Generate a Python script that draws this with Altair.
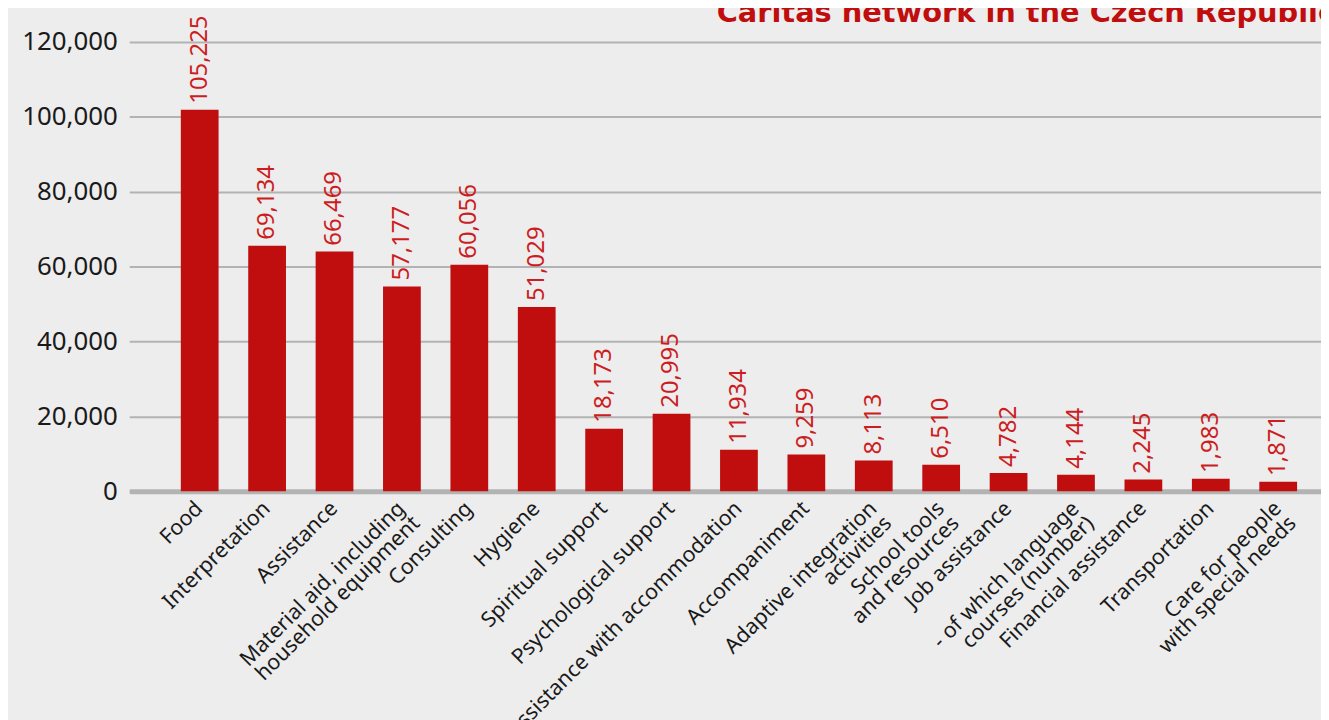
import altair as alt
import pandas as pd

categories = [
    "Food", "Interpretation", "Assistance",
    "Material aid, including\nhousehold equipment", "Consulting", "Hygiene",
    "Spiritual support", "Psychological support", "Assistance with accommodation",
    "Accompaniment", "Adaptive integration\nactivities", "School tools\nand resources",
    "Job assistance", "- of which language\ncourses (number)", "Financial assistance",
    "Transportation", "Care for people\nwith special needs",
]
bar_heights = [101900, 65600, 64000, 54700, 60500, 49200, 16700, 20700, 11100,
               9800, 8200, 7100, 4900, 4400, 3100, 3300, 2500]
label_values = [105225, 69134, 66469, 57177, 60056, 51029, 18173, 20995, 11934,
                9259, 8113, 6510, 4782, 4144, 2245, 1983, 1871]
y_ticks = [0, 20000, 40000, 60000, 80000, 100000, 120000]
title_text = ["Caritas network in the Czech Republic"]

df = pd.DataFrame({"category": categories, "bar": bar_heights, "label": label_values})
tdf = pd.DataFrame({"t": title_text})

BAR = "#c00d0d"
LABEL = "#cc1d22"
FONT = "Noto Sans"

x = alt.X(
    "category:N", sort=None, title=None,
    scale=alt.Scale(paddingInner=0.44, paddingOuter=0.56, align=0.683),
    axis=alt.Axis(
        labelAngle=-45, labelAlign="right", labelBaseline="middle",
        labelFontSize=21.5, labelLineHeight=21, labelColor="#1a1a1a", labelFont=FONT,
        labelPadding=14, ticks=False, domain=True, domainColor="#b3b3b3",
        domainWidth=5, labelExpr="split(datum.value, '\\n')", labelOverlap=False,
        labelLimit=400,
    ),
)
y = alt.Y(
    "bar:Q", title=None,
    scale=alt.Scale(domain=[0, 120000], nice=False),
    axis=alt.Axis(
        values=y_ticks, format=",d", grid=True, gridColor="#b3b3b3", gridWidth=2,
        domain=False, ticks=False, labelFontSize=26, labelColor="#1a1a1a",
        labelFont=FONT, labelPadding=12,
    ),
)

bars = alt.Chart(df).mark_bar(color=BAR).encode(x=x, y=y)

labels = alt.Chart(df).mark_text(
    angle=270, align="left", baseline="middle", dx=6,
    fontSize=24, color=LABEL, font=FONT,
).encode(
    x=alt.X("category:N", sort=None),
    y=alt.Y("bar:Q"),
    text=alt.Text("label:Q", format=",d"),
)

title = alt.Chart(tdf).mark_text(
    align="left", baseline="alphabetic", fontSize=29, fontWeight="bold",
    color=BAR, font="DejaVu Sans",
).encode(x=alt.value(591), y=alt.value(-20), text="t:N")

chart = alt.layer(bars, labels, title).properties(
    width=1199, height=452,
    autosize=alt.AutoSizeParams(type="none"),
    padding={"left": 122, "top": 32, "right": 0, "bottom": 228},
    background="#ededed",
).configure_view(stroke=None)

chart.save("out.html", embed_options={"renderer": "svg", "actions": False})
